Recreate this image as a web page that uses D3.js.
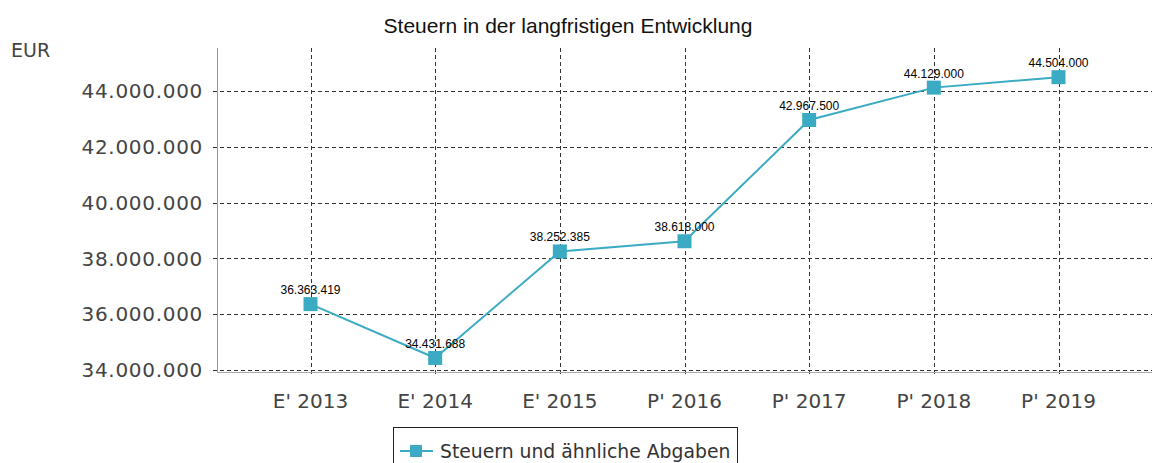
<!DOCTYPE html>
<html>
<head>
<meta charset="utf-8">
<script src="https://cdn.jsdelivr.net/npm/d3@7"></script>
<style>
  body { margin: 0; background: #fff; }
  svg { display: block; }
</style>
</head>
<body>
<script>
const width = 1153,
      height = 463

// data
const categories = ["E' 2013", "E' 2014", "E' 2015", "P' 2016", "P' 2017", "P' 2018", "P' 2019"]
const values = [36363419, 34431688, 38252385, 38618000, 42967500, 44129000, 44504000]
const yTicks = [34000000, 36000000, 38000000, 40000000, 42000000, 44000000]
const seriesName = 'Steuern und ähnliche Abgaben'
const title = 'Steuern in der langfristigen Entwicklung'

const color = '#3aabc3'
const margin = {left: 217, right: 1, top: 48, bottom: 93}

const fmt = d3.formatLocale({decimal: ',', thousands: '.', grouping: [3], currency: ['', '€']}).format(',d')

const svg = d3.select('body').append('svg')
    .attr('width', width)
    .attr('height', height)

const x = d3.scalePoint()
    .domain(categories)
    .range([margin.left, width - margin.right])
    .padding(0.75)

const y = d3.scaleLinear()
    .domain([34000000, 45550000])
    .range([height - margin.bottom, margin.top])

const bottom = height - margin.bottom

// grid lines
svg.selectAll('.hgrid')
    .data(yTicks)
    .enter()
    .append('line')
        .attr('x1', margin.left - 4)
        .attr('x2', width - margin.right)
        .attr('y1', d => Math.round(y(d)) + 0.5)
        .attr('y2', d => Math.round(y(d)) + 0.5)
        .style('stroke', '#333')
        .style('stroke-dasharray', '4,3')

svg.selectAll('.vgrid')
    .data(categories)
    .enter()
    .append('line')
        .attr('x1', d => Math.round(x(d)) + 0.5)
        .attr('x2', d => Math.round(x(d)) + 0.5)
        .attr('y1', margin.top)
        .attr('y2', bottom + 4)
        .style('stroke', '#333')
        .style('stroke-dasharray', '4,3')

// axis lines
svg.append('line')
    .attr('x1', margin.left + 0.5).attr('x2', margin.left + 0.5)
    .attr('y1', margin.top).attr('y2', bottom + 2)
    .style('stroke', '#999')
svg.append('line')
    .attr('x1', margin.left).attr('x2', width - margin.right)
    .attr('y1', bottom + 2.5).attr('y2', bottom + 2.5)
    .style('stroke', '#aaa')

// y labels
svg.selectAll('.ylab')
    .data(yTicks)
    .enter()
    .append('text')
        .attr('x', 203)
        .attr('y', d => y(d))
        .attr('dy', '0.36em')
        .attr('text-anchor', 'end')
        .style('font-family', 'DejaVu Sans, sans-serif')
        .style('font-size', '20px')
        .style('letter-spacing', '0.7px')
        .style('fill', '#444')
        .text(d => fmt(d))

// x labels
svg.selectAll('.xlab')
    .data(categories)
    .enter()
    .append('text')
        .attr('x', d => x(d))
        .attr('y', 408)
        .attr('text-anchor', 'middle')
        .style('font-family', 'DejaVu Sans, sans-serif')
        .style('font-size', '20px')
        .style('fill', '#444')
        .text(d => d)

// title + unit
svg.append('text')
    .attr('x', 568).attr('y', 33)
    .attr('text-anchor', 'middle')
    .style('font-family', 'Liberation Sans, Arial, sans-serif')
    .style('font-size', '21px')
    .style('fill', '#111')
    .text(title)

svg.append('text')
    .attr('x', 11).attr('y', 57)
    .style('font-family', 'DejaVu Sans, sans-serif')
    .style('font-size', '19px')
    .style('fill', '#444')
    .text('EUR')

// line
const line = d3.line()
    .x((d, i) => x(categories[i]))
    .y(d => y(d))

svg.append('path')
    .datum(values)
    .attr('d', line)
    .style('fill', 'none')
    .style('stroke', color)
    .style('stroke-width', 2)

svg.selectAll('.pt')
    .data(values)
    .enter()
    .append('rect')
        .attr('x', (d, i) => x(categories[i]) - 7)
        .attr('y', d => y(d) - 7)
        .attr('width', 14)
        .attr('height', 14)
        .style('fill', color)

svg.selectAll('.vlab')
    .data(values)
    .enter()
    .append('text')
        .attr('x', (d, i) => x(categories[i]))
        .attr('y', d => y(d) - 10)
        .attr('text-anchor', 'middle')
        .style('font-family', 'Liberation Sans, Arial, sans-serif')
        .style('font-size', '12px')
        .style('fill', '#000')
        .text(d => fmt(d))

// legend
const lg = svg.append('g')
lg.append('rect')
    .attr('x', 393.5).attr('y', 427.5)
    .attr('width', 344).attr('height', 40)
    .style('fill', 'none')
    .style('stroke', '#222')
lg.append('line')
    .attr('x1', 400).attr('x2', 433)
    .attr('y1', 451).attr('y2', 451)
    .style('stroke', color)
    .style('stroke-width', 2)
lg.append('rect')
    .attr('x', 410).attr('y', 445)
    .attr('width', 12).attr('height', 12)
    .style('fill', color)
lg.append('text')
    .attr('x', 440).attr('y', 458)
    .style('font-family', 'DejaVu Sans, sans-serif')
    .style('font-size', '18.8px')
    .style('fill', '#333')
    .text(seriesName)
</script>
</body>
</html>
